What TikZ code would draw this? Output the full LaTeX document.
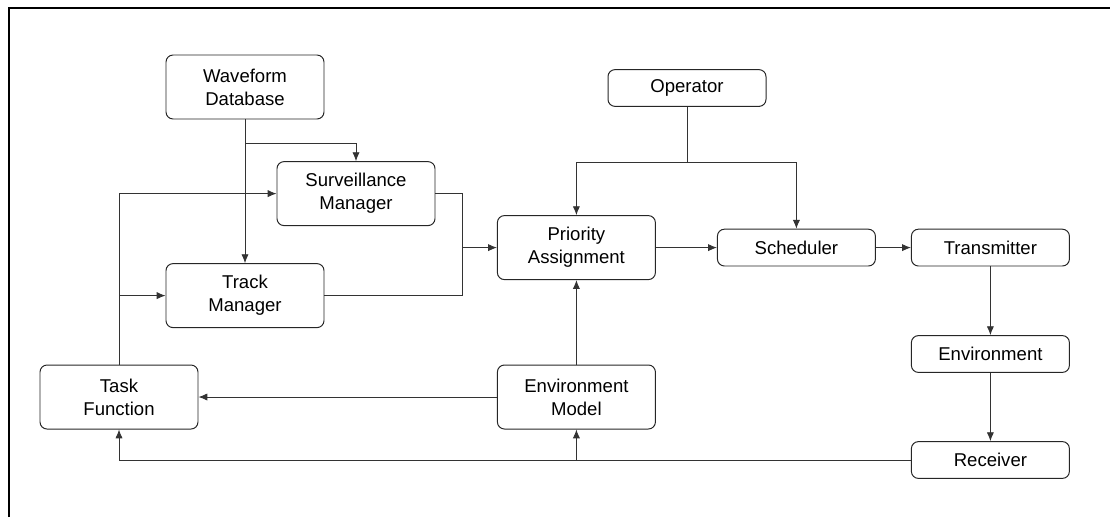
\documentclass[tikz,border=0pt]{standalone}
\usepackage{fontspec}
\setmainfont{Liberation Sans}
\usetikzlibrary{positioning,arrows.meta,calc}

\begin{document}
\begin{tikzpicture}[
    font=\fontsize{13.2}{16.4}\selectfont,
    block/.style={draw, black!85, line width=0.7pt, rounded corners=5pt, align=center,
                  minimum width=3.95cm, minimum height=1.6cm, inner sep=2pt, text=black},
    slim/.style={block, minimum height=0.92cm},
    flow/.style={-{Latex[length=2.2mm, width=1.8mm]}, black!80, line width=0.6pt},
    link/.style={black!80, line width=0.6pt},
  ]

  % ---------- page and frame ----------
  \useasboundingbox (0,0) rectangle (27.75,-12.925);
  \draw[line width=0.9pt] (0.225,-12.925) -- (0.225,-0.2) -- (27.75,-0.2);

  % ---------- left column: managers and task function ----------
  \node[block] (wave)  at (6.125,-2.175) {Waveform\\Database};
  \node[block] (surv)  at (8.9,-4.84)    {Surveillance\\Manager};
  \node[block] (track) at (6.125,-7.39)  {Track\\Manager};
  \node[block] (task)  at (2.975,-9.925) {Task\\Function};

  % ---------- middle: priority, operator, scheduler ----------
  \node[block] (prio)  at (14.41,-6.19)  {Priority\\Assignment};
  \node[block] (model) at (14.41,-9.925) {Environment\\Model};
  \node[slim]  (oper)  at (17.175,-2.2)  {Operator};
  \node[slim]  (sched) at (19.91,-6.19)  {Scheduler};

  % ---------- right column: radar chain ----------
  \node[slim] (trans) at (24.76,-6.19)  {Transmitter};
  \node[slim] (env)   at (24.76,-8.85)  {Environment};
  \node[slim] (recv)  at (24.76,-11.5)  {Receiver};

  % ---------- helper points ----------
  \coordinate (wsplit) at ($(wave.south)+(0,-0.6)$);
  \coordinate (osplit) at ($(oper.south)+(0,-1.38)$);
  \coordinate (fback)  at (11.55,0);
  \coordinate (rsplit) at (model.south |- recv.west);

  % ---------- waveform database feeds both managers ----------
  \draw[flow] (wave.south) -- (track.north);
  \draw[flow] (wsplit) -| (surv.north);

  % ---------- task function feedback to managers ----------
  \draw[flow] (task.north) |- (surv.west);
  \draw[flow] (task.north |- track.west) -- (track.west);

  % ---------- managers into priority assignment ----------
  \draw[flow] (surv.east) -| (fback |- prio.west) -- (prio.west);
  \draw[link] (track.east) -| (fback |- prio.west);

  % ---------- operator ----------
  \draw[flow] (oper.south) -- (osplit) -| (prio.north);
  \draw[flow] (osplit) -| (sched.north);

  % ---------- forward chain ----------
  \draw[flow] (prio.east) -- (sched.west);
  \draw[flow] (sched.east) -- (trans.west);
  \draw[flow] (trans.south) -- (env.north);
  \draw[flow] (env.south) -- (recv.north);

  % ---------- environment model and receiver return ----------
  \draw[flow] (model.north) -- (prio.south);
  \draw[flow] (model.west) -- (task.east);
  \draw[flow] (recv.west) -| (task.south);
  \draw[flow] (rsplit) -- (model.south);

\end{tikzpicture}
\end{document}
